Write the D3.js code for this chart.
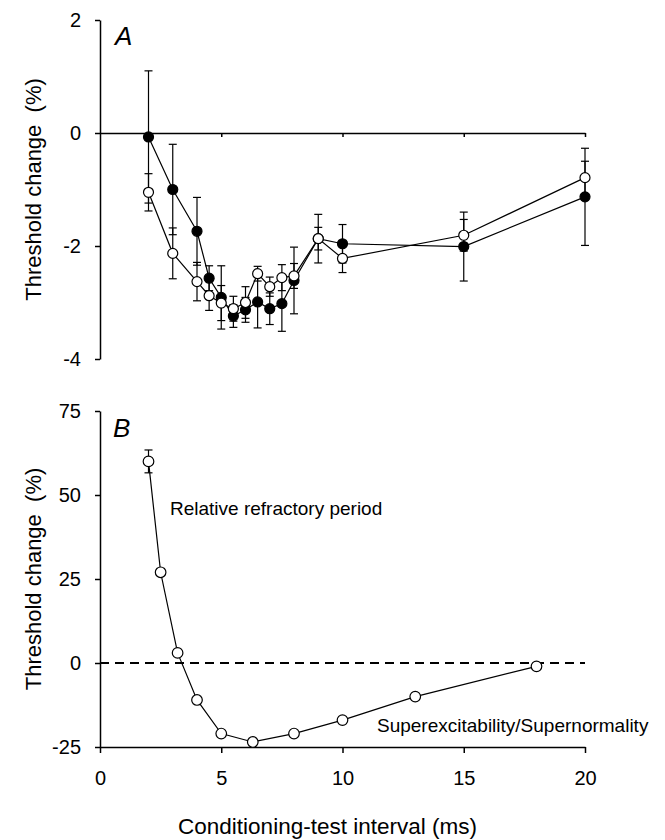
<!DOCTYPE html>
<html>
<head>
<meta charset="utf-8">
<script src="https://cdn.jsdelivr.net/npm/d3@7/dist/d3.min.js"></script>
<style>
  html, body { margin: 0; padding: 0; background: #fff; }
  svg { display: block; }
  text { font-family: "Liberation Sans", Arial, Helvetica, sans-serif; fill: #000; }
</style>
</head>
<body>
<svg id="chart" width="665" height="840"></svg>
<script>
// Panel A: threshold change after conditioning stimulus (two groups, mean ± SEM)
const intervalsA = [2, 3, 4, 4.5, 5, 5.5, 6, 6.5, 7, 7.5, 8, 9, 10, 15, 20];
const filledMean = [-0.07, -1.0, -1.74, -2.57, -2.91, -3.24, -3.13, -2.99, -3.11, -3.02, -2.61, -1.87, -1.96, -2.01, -1.13];
const filledErr  = [1.17, 0.8, 0.6, 0.22, 0.56, 0.2, 0.22, 0.46, 0.28, 0.49, 0.59, 0.2, 0.34, 0.61, 0.86];
const openMean   = [-1.05, -2.13, -2.63, -2.88, -3.01, -3.11, -3.0, -2.49, -2.72, -2.56, -2.53, -1.87, -2.22, -1.81, -0.79];
const openErr    = [0.33, 0.45, 0.34, 0.26, 0.31, 0.22, 0.28, 0.13, 0.17, 0.23, 0.22, 0.43, 0.25, 0.28, 0.29];
const ticksA = [-4, -2, 0, 2];

// Panel B: recovery cycle
const intervalsB = [2, 2.5, 3.2, 4, 5, 6.3, 8, 10, 13, 18];
const recovery   = [60, 27, 3, -11, -21, -23.5, -21, -17, -10, -1];
const recoveryErr = [3.4, 0, 0, 0, 0, 0, 0, 0, 0, 0];
const ticksB = [-25, 0, 25, 50, 75];

const ticksX = [0, 5, 10, 15, 20];
const xTitle = "Conditioning-test interval (ms)";
const yTitle = "Threshold change\u00a0\u00a0(%)";

const svg = d3.select("#chart");
const left = 100, right = 585;
const x = d3.scaleLinear().domain([0, 20]).range([left, right]);
const yA = d3.scaleLinear().domain([-4, 2]).range([359, 20]);
const yB = d3.scaleLinear().domain([-25, 75]).range([747, 411]);

// plain hyphen for negative numbers
const fmt = d => String(d);

function styleAxis(g, fs) {
  g.select(".domain").attr("stroke", "#000").attr("stroke-width", 1.5);
  g.selectAll(".tick line").attr("stroke", "#000").attr("stroke-width", 1.5);
  g.selectAll(".tick text").attr("font-size", fs).attr("fill", "#000")
    .attr("font-family", "'Liberation Sans', Arial, sans-serif");
}

// ---------- Panel A ----------
const gA = svg.append("g");
gA.append("g").attr("transform", `translate(${left},0)`)
  .call(d3.axisLeft(yA).tickValues(ticksA).tickSize(5).tickPadding(14).tickSizeOuter(0).tickFormat(fmt))
  .call(g => styleAxis(g, 20));

// zero reference line with downward ticks
gA.append("g").attr("transform", `translate(0,${yA(0)})`)
  .call(d3.axisBottom(x).tickValues(ticksX.filter(d => d > 0)).tickSize(4).tickSizeOuter(0).tickFormat(""))
  .call(g => styleAxis(g, 20));

function drawSeries(g, y, xs, means, errs, cap) {
  const pts = xs.map((d, i) => ({ x: d, m: means[i], e: errs[i] }));
  g.append("path").datum(pts)
    .attr("fill", "none").attr("stroke", "#000").attr("stroke-width", 1.2)
    .attr("d", d3.line().x(d => x(d.x)).y(d => y(d.m)));
  const eb = g.append("g").attr("stroke", "#000").attr("stroke-width", 1.2);
  pts.filter(d => d.e > 0).forEach(d => {
    const cx = x(d.x), y0 = y(d.m - d.e), y1 = y(d.m + d.e);
    eb.append("line").attr("x1", cx).attr("x2", cx).attr("y1", y0).attr("y2", y1);
    eb.append("line").attr("x1", cx - cap).attr("x2", cx + cap).attr("y1", y0).attr("y2", y0);
    eb.append("line").attr("x1", cx - cap).attr("x2", cx + cap).attr("y1", y1).attr("y2", y1);
  });
  return pts;
}
function drawDots(g, y, pts, fill, r) {
  g.append("g").selectAll("circle").data(pts).join("circle")
    .attr("cx", d => x(d.x)).attr("cy", d => y(d.m)).attr("r", r)
    .attr("fill", fill).attr("stroke", "#000").attr("stroke-width", 1.2);
}

const pFilled = drawSeries(gA, yA, intervalsA, filledMean, filledErr, 4);
drawDots(gA, yA, pFilled, "#000", 5);
const pOpen = drawSeries(gA, yA, intervalsA, openMean, openErr, 4);
drawDots(gA, yA, pOpen, "#fff", 5);

gA.append("text").attr("x", 115).attr("y", 45).attr("font-size", 26)
  .attr("font-style", "italic").text("A");

gA.append("text")
  .attr("transform", `translate(41,${(yA(2) + yA(-4)) / 2}) rotate(-90)`)
  .attr("text-anchor", "middle").attr("font-size", 22).text(yTitle);

// ---------- Panel B ----------
const gB = svg.append("g");
gB.append("g").attr("transform", `translate(${left},0)`)
  .call(d3.axisLeft(yB).tickValues(ticksB).tickSize(5).tickPadding(14).tickSizeOuter(0).tickFormat(fmt))
  .call(g => styleAxis(g, 20));
gB.append("g").attr("transform", `translate(0,${yB(-25)})`)
  .call(d3.axisBottom(x).tickValues(ticksX).tickSize(6).tickPadding(18).tickSizeOuter(0).tickFormat(fmt))
  .call(g => styleAxis(g, 20));

// zero line
gB.append("line")
  .attr("x1", x(0)).attr("x2", x(20)).attr("y1", yB(0)).attr("y2", yB(0))
  .attr("stroke", "#000").attr("stroke-width", 2).attr("stroke-dasharray", "9,6");

const pRec = drawSeries(gB, yB, intervalsB, recovery, recoveryErr, 4);
drawDots(gB, yB, pRec, "#fff", 5.3);

gB.append("text").attr("x", 113).attr("y", 437).attr("font-size", 26)
  .attr("font-style", "italic").text("B");

gB.append("text").attr("x", 170).attr("y", 515).attr("font-size", 19)
  .text("Relative refractory period");
gB.append("text").attr("x", 377).attr("y", 732).attr("font-size", 19)
  .text("Superexcitability/Supernormality");

gB.append("text")
  .attr("transform", `translate(41,${(yB(75) + yB(-25)) / 2}) rotate(-90)`)
  .attr("text-anchor", "middle").attr("font-size", 22).text(yTitle);

svg.append("text").attr("x", 327.5).attr("y", 834)
  .attr("text-anchor", "middle").attr("font-size", 22.5).text(xTitle);
</script>
</body>
</html>
